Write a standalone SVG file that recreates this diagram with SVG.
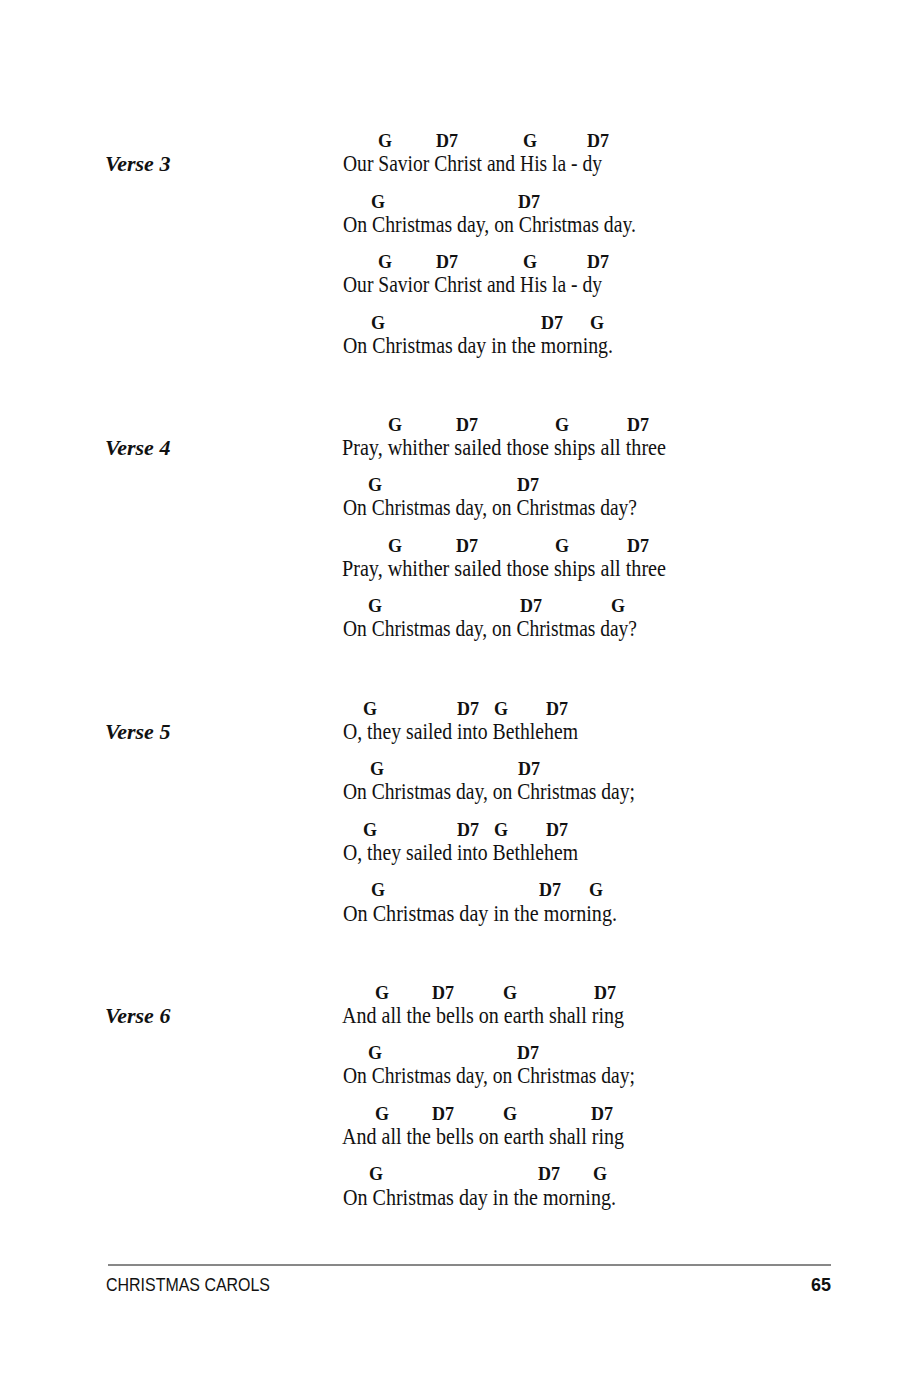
<svg xmlns="http://www.w3.org/2000/svg" width="900" height="1379" viewBox="0 0 900 1379">
<style>
.c{font-family:"Liberation Serif",serif;font-weight:bold;font-size:18px;fill:#111}
.l{font-family:"Liberation Serif",serif;font-size:23px;fill:#111}
.v{font-family:"Liberation Serif",serif;font-weight:bold;font-style:italic;font-size:22px;fill:#111}
.f{font-family:"Liberation Sans",sans-serif;font-size:19px;fill:#111}
</style>
<rect width="900" height="1379" fill="#fff"/>
<g id="verse3">
<text class="v" x="105" y="171">Verse 3</text>
<text class="c" y="147"><tspan x="378">G</tspan><tspan x="436">D7</tspan><tspan x="523">G</tspan><tspan x="587">D7</tspan></text>
<text class="l" x="343" y="171" textLength="259" lengthAdjust="spacingAndGlyphs">Our Savior Christ and His la - dy</text>
<text class="c" y="208"><tspan x="371">G</tspan><tspan x="518">D7</tspan></text>
<text class="l" x="343" y="232" textLength="293" lengthAdjust="spacingAndGlyphs">On Christmas day, on Christmas day.</text>
<text class="c" y="268"><tspan x="378">G</tspan><tspan x="436">D7</tspan><tspan x="523">G</tspan><tspan x="587">D7</tspan></text>
<text class="l" x="343" y="292" textLength="259" lengthAdjust="spacingAndGlyphs">Our Savior Christ and His la - dy</text>
<text class="c" y="329"><tspan x="371">G</tspan><tspan x="541">D7</tspan><tspan x="590">G</tspan></text>
<text class="l" x="343" y="353" textLength="270" lengthAdjust="spacingAndGlyphs">On Christmas day in the morning.</text>
</g>
<g id="verse4">
<text class="v" x="105" y="455">Verse 4</text>
<text class="c" y="431"><tspan x="388">G</tspan><tspan x="456">D7</tspan><tspan x="555">G</tspan><tspan x="627">D7</tspan></text>
<text class="l" x="342" y="455" textLength="324" lengthAdjust="spacingAndGlyphs">Pray, whither sailed those ships all three</text>
<text class="c" y="491"><tspan x="368">G</tspan><tspan x="517">D7</tspan></text>
<text class="l" x="343" y="515" textLength="294" lengthAdjust="spacingAndGlyphs">On Christmas day, on Christmas day?</text>
<text class="c" y="552"><tspan x="388">G</tspan><tspan x="456">D7</tspan><tspan x="555">G</tspan><tspan x="627">D7</tspan></text>
<text class="l" x="342" y="576" textLength="324" lengthAdjust="spacingAndGlyphs">Pray, whither sailed those ships all three</text>
<text class="c" y="612"><tspan x="368">G</tspan><tspan x="520">D7</tspan><tspan x="611">G</tspan></text>
<text class="l" x="343" y="636" textLength="294" lengthAdjust="spacingAndGlyphs">On Christmas day, on Christmas day?</text>
</g>
<g id="verse5">
<text class="v" x="105" y="739">Verse 5</text>
<text class="c" y="715"><tspan x="363">G</tspan><tspan x="457">D7</tspan><tspan x="494">G</tspan><tspan x="546">D7</tspan></text>
<text class="l" x="343" y="739" textLength="235" lengthAdjust="spacingAndGlyphs">O, they sailed into Bethlehem</text>
<text class="c" y="775"><tspan x="370">G</tspan><tspan x="518">D7</tspan></text>
<text class="l" x="343" y="799" textLength="292" lengthAdjust="spacingAndGlyphs">On Christmas day, on Christmas day;</text>
<text class="c" y="836"><tspan x="363">G</tspan><tspan x="457">D7</tspan><tspan x="494">G</tspan><tspan x="546">D7</tspan></text>
<text class="l" x="343" y="860" textLength="235" lengthAdjust="spacingAndGlyphs">O, they sailed into Bethlehem</text>
<text class="c" y="896"><tspan x="371">G</tspan><tspan x="539">D7</tspan><tspan x="589">G</tspan></text>
<text class="l" x="343" y="921" textLength="274" lengthAdjust="spacingAndGlyphs">On Christmas day in the morning.</text>
</g>
<g id="verse6">
<text class="v" x="105" y="1023">Verse 6</text>
<text class="c" y="999"><tspan x="375">G</tspan><tspan x="432">D7</tspan><tspan x="503">G</tspan><tspan x="594">D7</tspan></text>
<text class="l" x="342" y="1023" textLength="282" lengthAdjust="spacingAndGlyphs">And all the bells on earth shall ring</text>
<text class="c" y="1059"><tspan x="368">G</tspan><tspan x="517">D7</tspan></text>
<text class="l" x="343" y="1083" textLength="292" lengthAdjust="spacingAndGlyphs">On Christmas day, on Christmas day;</text>
<text class="c" y="1120"><tspan x="375">G</tspan><tspan x="432">D7</tspan><tspan x="503">G</tspan><tspan x="591">D7</tspan></text>
<text class="l" x="342" y="1144" textLength="282" lengthAdjust="spacingAndGlyphs">And all the bells on earth shall ring</text>
<text class="c" y="1180"><tspan x="369">G</tspan><tspan x="538">D7</tspan><tspan x="593">G</tspan></text>
<text class="l" x="343" y="1205" textLength="273" lengthAdjust="spacingAndGlyphs">On Christmas day in the morning.</text>
</g>
<g id="footer">
<line x1="108" y1="1265" x2="831" y2="1265" stroke="#111" stroke-width="1"/>
<text class="f" x="106" y="1291" textLength="164" lengthAdjust="spacingAndGlyphs">CHRISTMAS CAROLS</text>
<text class="f" x="831" y="1291" text-anchor="end" font-weight="bold" textLength="20" lengthAdjust="spacingAndGlyphs">65</text>
</g>
</svg>
